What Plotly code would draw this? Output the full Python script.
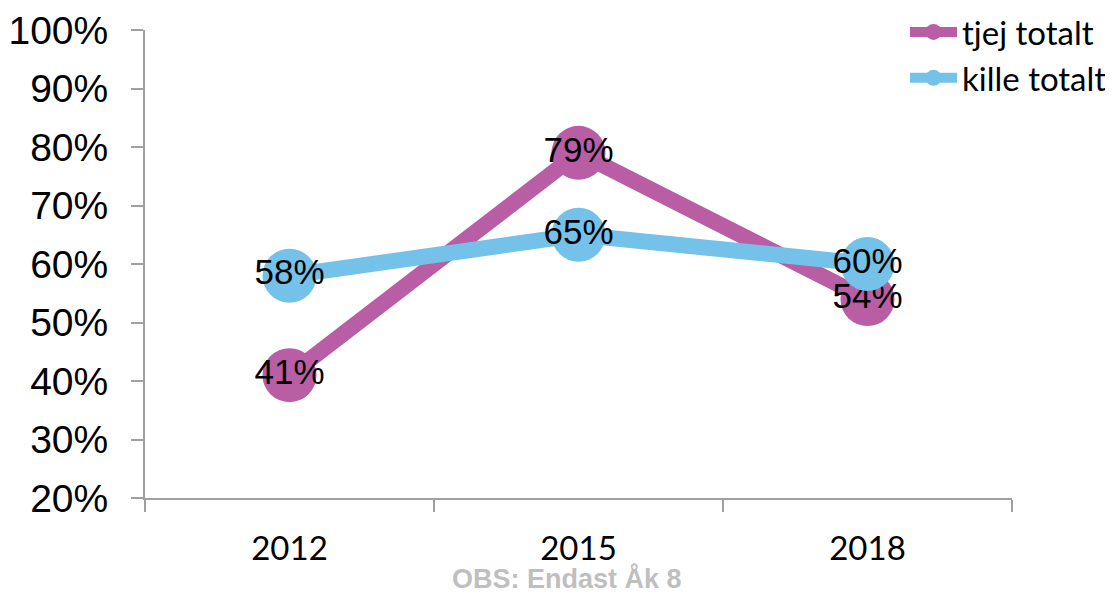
import plotly.graph_objects as go

years = ["2012", "2015", "2018"]
tjej_totalt = [0.41, 0.79, 0.54]
kille_totalt = [0.58, 0.65, 0.60]
y_ticks = [0.2, 0.3, 0.4, 0.5, 0.6, 0.7, 0.8, 0.9, 1.0]

OFF = 8  # default page body margin
W, H = 1113 - OFF, 594 - OFF
L, R, T, B = 145 - OFF, 101, 30 - OFF, 96
PW, PH = W - L - R, H - T - B

def px_x(x):
    return (x - OFF - L) / PW

def px_y(y):
    return (H - B - (y - OFF)) / PH

fig = go.Figure()
fig.add_trace(go.Scatter(
    x=years, y=tjej_totalt, name="tjej totalt", mode="lines+markers+text",
    line=dict(color="#B95DA5", width=16),
    marker=dict(color="#B95DA5", size=54),
    text=[f"{v:.0%}" for v in tjej_totalt], textposition="middle center",
    textfont=dict(family="Liberation Sans, Arial", size=35, color="black"),
))
fig.add_trace(go.Scatter(
    x=years, y=kille_totalt, name="kille totalt", mode="lines+markers+text",
    line=dict(color="#74C1EA", width=16),
    marker=dict(color="#74C1EA", size=54),
    text=[f"{v:.0%}" for v in kille_totalt], textposition="middle center",
    textfont=dict(family="Liberation Sans, Arial", size=35, color="black"),
))

fig.update_layout(
    width=W, height=H,
    margin=dict(l=L, r=R, t=T, b=B, autoexpand=False),
    plot_bgcolor="white", paper_bgcolor="white",
    showlegend=True,
    legend=dict(x=px_x(905), y=px_y(4), xanchor="left", yanchor="top",
                font=dict(family="Lato, Carlito, sans-serif", size=33, color="black"),
                itemwidth=47, tracegroupgap=0, bgcolor="rgba(0,0,0,0)"),
    xaxis=dict(type="category", range=[-0.5, 2.5], showline=True, linecolor="#A0A0A0", linewidth=2,
               ticks="outside", ticklen=12, tickcolor="#A0A0A0", tickwidth=2,
               tickson="boundaries", showgrid=False, zeroline=False,
               ticklabelstandoff=20,
               tickfont=dict(family="Lato, Carlito, sans-serif", size=33, color="black")),
    yaxis=dict(range=[0.2, 1.0], tickvals=y_ticks, tickformat=".0%", showline=True,
               linecolor="#A0A0A0", linewidth=2, ticks="outside", ticklen=12,
               tickcolor="#A0A0A0", tickwidth=2, showgrid=False, zeroline=False,
               ticklabelstandoff=15,
               tickfont=dict(family="Liberation Sans, Arial", size=39, color="black")),
    annotations=[dict(text="<b>OBS: Endast Åk 8</b>", x=px_x(567), y=px_y(578),
                      xref="paper", yref="paper", xanchor="center", yanchor="middle",
                      showarrow=False,
                      font=dict(family="Liberation Sans, Arial", size=27, color="#BFBFBF"))],
)
fig.write_html("out.html")
